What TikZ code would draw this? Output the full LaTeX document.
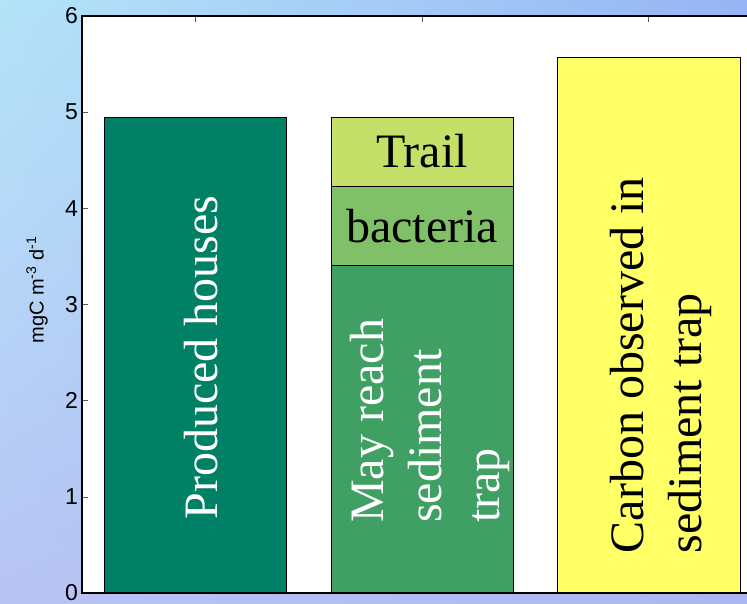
\documentclass[tikz,border=0pt]{standalone}
\usepackage{fontspec}
\setmainfont{Liberation Serif}
\setsansfont{Liberation Sans}
\usetikzlibrary{shadings}

\definecolor{bgtl}{RGB}{180,228,248}
\definecolor{bgtr}{RGB}{150,180,244}
\definecolor{bgbl}{RGB}{184,196,244}
\definecolor{bgbr}{RGB}{172,182,240}
\definecolor{housegreen}{RGB}{0,128,100}
\definecolor{reachgreen}{RGB}{64,160,100}
\definecolor{bactgreen}{RGB}{128,192,104}
\definecolor{trailgreen}{RGB}{196,224,104}
\definecolor{trapyellow}{RGB}{255,255,102}

\begin{document}
\begin{tikzpicture}[x = 1pt, y = 1pt,
    bar/.style = {draw = black, line width = 0.8pt},
    big/.style = {font = \fontsize{48}{58}\selectfont, align = left, inner sep = 0pt},
    ticklabel/.style = {font = \sffamily\fontsize{23}{23}\selectfont, anchor = east, inner sep = 2pt}]
  \shade[upper left = bgtl, upper right = bgtr, lower left = bgbl, lower right = bgbr] (0,0) rectangle (747,603);
  \useasboundingbox (0,0) rectangle (747,603);
  \begin{scope}[shift = {(0,10)}, y = 96.17pt]
    \fill[white] (82,0) rectangle (747,6);
    \filldraw[bar, fill = housegreen] (104,0) rectangle (286,4.95);
    \filldraw[bar, fill = reachgreen] (331,0) rectangle (513,3.41);
    \filldraw[bar, fill = bactgreen] (331,3.41) rectangle (513,4.23);
    \filldraw[bar, fill = trailgreen] (331,4.23) rectangle (513,4.95);
    \filldraw[bar, fill = trapyellow] (557,0) rectangle (740,5.57);
    \foreach \v in {0,...,6} {
      \draw[gray!70!black] (82,\v) -- ++(6pt,0);
      \node[ticklabel] (tick\v) at (80,\v) {\v};
    }
    \foreach \x in {195,422,648}
      \draw[gray!70!black] (\x,6) -- ++(0,-6pt);
    \draw[line width = 1.2pt] (747,0) -- (82,0) -- (82,6) -- (747,6);
    \node[rotate = 90, font = \sffamily\fontsize{20}{20}\selectfont] (unit) at (37,3.15)
      {mgC m\textsuperscript{-3} d\textsuperscript{-1}};
    \node[big, white, rotate = 90] (houses) at (201,2.45) {Produced houses};
    \node[big] (trail) at (422,4.60) {Trail};
    \node[big] (bacteria) at (422,3.82) {bacteria};
    \node[big, white, rotate = 90] (reach) at (430,1.79) {May reach\\sediment\\trap};
    \node[big, rotate = 90] (observed) at (661,2.37) {Carbon observed in\\sediment trap};
  \end{scope}
\end{tikzpicture}
\end{document}
